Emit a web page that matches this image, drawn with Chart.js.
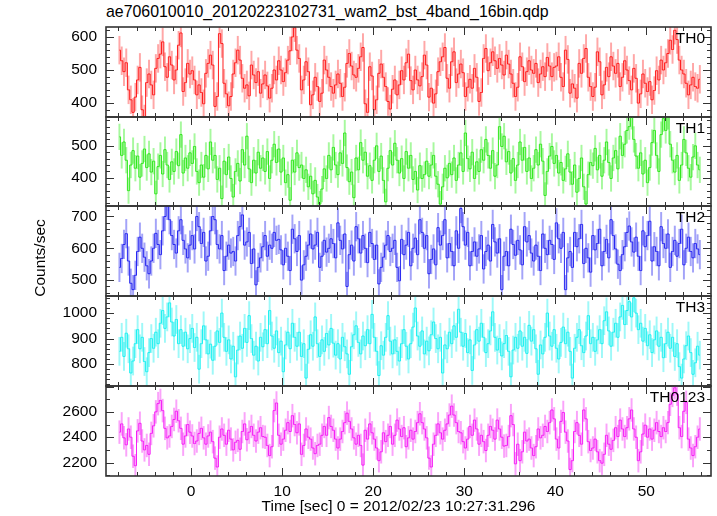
<!DOCTYPE html>
<html>
<head>
<meta charset="utf-8">
<title>ae706010010 WAM light curve</title>
<script src="https://cdn.jsdelivr.net/npm/chart.js@4.4.1/dist/chart.umd.min.js"></script>
<style>
  body { margin: 0; background: #fff; }
  #page { position: relative; width: 717px; height: 516px; overflow: hidden; font-family: "Liberation Sans", Arial, sans-serif; }
  #title { position: absolute; left: 106px; top: 3px; font-size: 15.9px; color: #000; }
  canvas.panel { position: absolute; left: 0; }
</style>
</head>
<body>
<div id="page">
  <div id="title">ae706010010_20120223102731_wam2_bst_4band_16bin.qdp</div>
  <canvas id="p0" class="panel"></canvas>
  <canvas id="p1" class="panel"></canvas>
  <canvas id="p2" class="panel"></canvas>
  <canvas id="p3" class="panel"></canvas>
  <canvas id="p4" class="panel"></canvas>
</div>
<script>
// bin centres (0.25 s bins), seconds from 2012/02/23 10:27:31.296
const times = [
  -7.875, -7.625, -7.375, -7.125, -6.875, -6.625, -6.375, -6.125, -5.875, -5.625, -5.375, -5.125, -4.875, -4.625, -4.375, -4.125,
  -3.875, -3.625, -3.375, -3.125, -2.875, -2.625, -2.375, -2.125, -1.875, -1.625, -1.375, -1.125, -0.875, -0.625, -0.375, -0.125,
  0.125, 0.375, 0.625, 0.875, 1.125, 1.375, 1.625, 1.875, 2.125, 2.375, 2.625, 2.875, 3.125, 3.375, 3.625, 3.875,
  4.125, 4.375, 4.625, 4.875, 5.125, 5.375, 5.625, 5.875, 6.125, 6.375, 6.625, 6.875, 7.125, 7.375, 7.625, 7.875,
  8.125, 8.375, 8.625, 8.875, 9.125, 9.375, 9.625, 9.875, 10.125, 10.375, 10.625, 10.875, 11.125, 11.375, 11.625, 11.875,
  12.125, 12.375, 12.625, 12.875, 13.125, 13.375, 13.625, 13.875, 14.125, 14.375, 14.625, 14.875, 15.125, 15.375, 15.625, 15.875,
  16.125, 16.375, 16.625, 16.875, 17.125, 17.375, 17.625, 17.875, 18.125, 18.375, 18.625, 18.875, 19.125, 19.375, 19.625, 19.875,
  20.125, 20.375, 20.625, 20.875, 21.125, 21.375, 21.625, 21.875, 22.125, 22.375, 22.625, 22.875, 23.125, 23.375, 23.625, 23.875,
  24.125, 24.375, 24.625, 24.875, 25.125, 25.375, 25.625, 25.875, 26.125, 26.375, 26.625, 26.875, 27.125, 27.375, 27.625, 27.875,
  28.125, 28.375, 28.625, 28.875, 29.125, 29.375, 29.625, 29.875, 30.125, 30.375, 30.625, 30.875, 31.125, 31.375, 31.625, 31.875,
  32.125, 32.375, 32.625, 32.875, 33.125, 33.375, 33.625, 33.875, 34.125, 34.375, 34.625, 34.875, 35.125, 35.375, 35.625, 35.875,
  36.125, 36.375, 36.625, 36.875, 37.125, 37.375, 37.625, 37.875, 38.125, 38.375, 38.625, 38.875, 39.125, 39.375, 39.625, 39.875,
  40.125, 40.375, 40.625, 40.875, 41.125, 41.375, 41.625, 41.875, 42.125, 42.375, 42.625, 42.875, 43.125, 43.375, 43.625, 43.875,
  44.125, 44.375, 44.625, 44.875, 45.125, 45.375, 45.625, 45.875, 46.125, 46.375, 46.625, 46.875, 47.125, 47.375, 47.625, 47.875,
  48.125, 48.375, 48.625, 48.875, 49.125, 49.375, 49.625, 49.875, 50.125, 50.375, 50.625, 50.875, 51.125, 51.375, 51.625, 51.875,
  52.125, 52.375, 52.625, 52.875, 53.125, 53.375, 53.625, 53.875, 54.125, 54.375, 54.625, 54.875, 55.125, 55.375, 55.625, 55.875
];

// counts/sec per band
const th0 = [
  560, 528, 495, 522, 440, 410, 372, 418, 470, 508, 380, 352, 462, 488, 455, 425,
  505, 535, 548, 585, 510, 478, 540, 515, 470, 500, 575, 612, 435, 462, 520, 488,
  498, 470, 425, 455, 432, 398, 490, 520, 545, 515, 390, 420, 610, 580, 460, 428,
  392, 420, 488, 522, 560, 530, 475, 445, 455, 422, 515, 485, 462, 495, 430, 458,
  485, 452, 415, 445, 500, 470, 528, 500, 465, 492, 530, 558, 600, 628, 560, 535,
  440, 470, 525, 495, 395, 425, 478, 450, 405, 430, 530, 500, 478, 450, 430, 455,
  488, 460, 420, 448, 520, 550, 512, 485, 478, 505, 540, 568, 398, 372, 510, 482,
  380, 410, 490, 518, 478, 450, 405, 382, 442, 470, 425, 455, 498, 470, 522, 548,
  468, 440, 500, 470, 452, 480, 545, 515, 418, 445, 400, 428, 495, 525, 540, 568,
  475, 445, 525, 555, 462, 488, 518, 492, 420, 448, 472, 445, 505, 478, 405, 432,
  535, 565, 498, 522, 555, 528, 505, 535, 515, 485, 545, 518, 488, 460, 420, 448,
  540, 510, 465, 495, 528, 500, 490, 520, 462, 488, 510, 480, 538, 512, 480, 508,
  512, 540, 478, 450, 560, 532, 430, 458, 445, 415, 520, 490, 535, 565, 478, 450,
  420, 448, 555, 525, 425, 455, 508, 480, 540, 512, 490, 520, 450, 478, 528, 500,
  468, 440, 505, 475, 400, 428, 488, 460, 435, 465, 410, 438, 498, 470, 530, 500,
  522, 550, 590, 562, 620, 592, 530, 500, 488, 460, 425, 455, 478, 450, 445, 472
];
const th1 = [
  528, 470, 512, 455, 360, 440, 485, 430, 468, 402, 445, 490, 432, 475, 418, 452,
  350, 435, 470, 412, 488, 440, 395, 450, 420, 482, 438, 535, 415, 462, 430, 478,
  445, 498, 420, 385, 440, 402, 470, 428, 512, 455, 470, 395, 430, 335, 452, 410,
  465, 398, 340, 420, 445, 390, 488, 440, 530, 428, 385, 455, 415, 480, 430, 462,
  420, 482, 398, 455, 505, 448, 490, 418, 462, 385, 410, 330, 455, 418, 478, 432,
  440, 398, 425, 372, 405, 350, 392, 340, 318, 365, 428, 398, 470, 425, 495, 440,
  410, 478, 445, 540, 432, 388, 418, 338, 462, 425, 510, 455, 480, 405, 438, 392,
  455, 500, 420, 468, 392, 325, 430, 485, 440, 508, 455, 415, 460, 398, 482, 430,
  470, 395, 420, 362, 438, 398, 410, 452, 405, 440, 470, 405, 380, 318, 372, 430,
  400, 445, 410, 462, 392, 440, 478, 420, 540, 460, 428, 480, 398, 450, 420, 488,
  455, 520, 470, 430, 485, 405, 440, 560, 498, 530, 450, 482, 415, 460, 392, 440,
  512, 455, 495, 420, 462, 398, 430, 488, 440, 505, 452, 345, 420, 468, 498, 445,
  470, 415, 448, 392, 428, 475, 418, 380, 440, 355, 398, 462, 372, 318, 410, 448,
  438, 492, 425, 470, 405, 455, 512, 448, 398, 462, 485, 428, 530, 470, 505, 548,
  560, 592, 520, 468, 430, 478, 412, 455, 385, 432, 510, 548, 470, 420, 535, 585,
  548, 592, 505, 455, 418, 470, 392, 440, 520, 478, 430, 402, 465, 500, 440, 425
];
const th2 = [
  540, 568, 612, 646, 560, 490, 470, 515, 590, 635, 600, 572, 545, 520, 560, 600,
  647, 612, 580, 655, 700, 735, 690, 640, 612, 585, 655, 690, 625, 598, 570, 610,
  640, 598, 700, 668, 615, 650, 560, 575, 655, 700, 690, 612, 598, 640, 530, 575,
  610, 585, 590, 560, 640, 668, 705, 610, 620, 650, 552, 598, 485, 540, 570, 605,
  640, 575, 610, 600, 650, 625, 628, 595, 548, 600, 575, 530, 660, 630, 590, 640,
  500, 548, 575, 610, 645, 598, 610, 650, 540, 575, 625, 588, 600, 630, 615, 570,
  680, 625, 598, 645, 480, 580, 610, 560, 668, 630, 585, 640, 600, 555, 650, 615,
  565, 610, 488, 540, 572, 610, 640, 590, 600, 625, 540, 498, 628, 580, 610, 650,
  545, 600, 632, 580, 690, 650, 600, 640, 520, 565, 598, 548, 665, 610, 640, 690,
  570, 615, 590, 545, 655, 600, 725, 668, 610, 650, 545, 590, 620, 575, 598, 640,
  535, 590, 610, 560, 675, 620, 585, 630, 470, 575, 590, 545, 660, 612, 578, 625,
  595, 548, 668, 620, 640, 585, 560, 610, 575, 530, 645, 600, 580, 625, 612, 565,
  680, 630, 600, 650, 470, 570, 590, 540, 650, 605, 630, 675, 552, 600, 570, 525,
  640, 595, 615, 660, 545, 590, 628, 570, 690, 640, 598, 550, 530, 580, 605, 650,
  670, 620, 588, 635, 575, 530, 655, 605, 640, 685, 560, 605, 590, 545, 668, 615,
  600, 645, 540, 590, 625, 575, 615, 660, 548, 600, 635, 590, 570, 615, 598, 580
];
const th3 = [
  850, 905, 830, 921, 860, 765, 812, 880, 935, 860, 905, 810, 770, 845, 900, 862,
  925, 880, 960, 1010, 940, 985, 1040, 965, 910, 975, 880, 935, 870, 925, 860, 900,
  940, 865, 905, 780, 880, 950, 895, 840, 878, 815, 870, 930, 885, 1000, 905, 850,
  895, 820, 870, 750, 855, 910, 862, 940, 885, 990, 900, 835, 870, 812, 905, 868,
  935, 880, 1010, 910, 862, 930, 845, 890, 770, 875, 925, 860, 960, 905, 870, 925,
  830, 880, 745, 858, 915, 870, 985, 880, 830, 895, 850, 920, 875, 940, 882, 835,
  880, 820, 905, 868, 840, 760, 868, 915, 950, 885, 840, 910, 872, 935, 880, 995,
  905, 850, 755, 872, 835, 905, 990, 890, 840, 895, 850, 812, 880, 935, 870, 820,
  880, 945, 1020, 910, 870, 930, 840, 890, 852, 915, 965, 900, 860, 905, 765, 875,
  860, 925, 880, 950, 905, 1015, 925, 870, 920, 845, 895, 775, 875, 935, 890, 960,
  905, 845, 880, 930, 1005, 905, 855, 900, 832, 880, 912, 850, 750, 855, 905, 862,
  930, 870, 905, 842, 952, 890, 935, 860, 760, 875, 840, 905, 1000, 910, 870, 935,
  862, 820, 885, 945, 880, 925, 850, 745, 862, 905, 935, 872, 845, 910, 990, 880,
  905, 850, 895, 935, 880, 970, 1005, 930, 870, 925, 960, 905, 985, 1030, 955, 1010,
  1045, 985, 1060, 1000, 935, 960, 890, 940, 872, 915, 845, 895, 930, 870, 905, 825,
  880, 925, 862, 905, 830, 880, 790, 745, 820, 872, 910, 845, 760, 805, 870, 835
];
const th0123 = [
  2440, 2505, 2395, 2340, 2465, 2400, 2250, 2175, 2450, 2510, 2370, 2300, 2335, 2265, 2430, 2490,
  2600, 2665, 2690, 2610, 2470, 2395, 2410, 2485, 2540, 2605, 2530, 2470, 2345, 2410, 2500, 2440,
  2410, 2350, 2370, 2430, 2470, 2395, 2345, 2410, 2440, 2365, 2235, 2165, 2400, 2465, 2415, 2345,
  2455, 2385, 2300, 2360, 2375, 2305, 2445, 2505, 2380, 2440, 2485, 2415, 2370, 2440, 2475, 2405,
  2400, 2335, 2255, 2325, 2610, 2670, 2415, 2345, 2385, 2455, 2515, 2445, 2570, 2500, 2435, 2505,
  2265, 2335, 2465, 2400, 2385, 2315, 2270, 2335, 2345, 2415, 2485, 2415, 2555, 2485, 2455, 2385,
  2315, 2385, 2445, 2515, 2590, 2525, 2465, 2395, 2345, 2415, 2335, 2180, 2455, 2385, 2505, 2435,
  2385, 2315, 2215, 2285, 2435, 2365, 2415, 2485, 2345, 2415, 2535, 2465, 2405, 2475, 2325, 2395,
  2455, 2385, 2445, 2515, 2585, 2515, 2465, 2395, 2235, 2165, 2345, 2415, 2505, 2435, 2385, 2455,
  2505, 2575, 2645, 2575, 2515, 2445, 2435, 2365, 2315, 2385, 2485, 2415, 2535, 2465, 2345, 2415,
  2365, 2295, 2415, 2485, 2455, 2385, 2535, 2465, 2400, 2330, 2335, 2405, 2570, 2500, 2190, 2345,
  2215, 2285, 2440, 2370, 2385, 2315, 2255, 2325, 2465, 2395, 2415, 2485, 2445, 2515, 2615, 2545,
  2385, 2315, 2525, 2595, 2440, 2370, 2145, 2215, 2445, 2515, 2415, 2345, 2615, 2545, 2365, 2295,
  2315, 2385, 2285, 2215, 2195, 2265, 2415, 2345, 2305, 2375, 2475, 2405, 2535, 2465, 2405, 2475,
  2545, 2615, 2465, 2400, 2215, 2285, 2425, 2495, 2400, 2465, 2385, 2455, 2515, 2445, 2405, 2475,
  2445, 2515, 2660, 2730, 2790, 2740, 2475, 2405, 2605, 2675, 2385, 2315, 2255, 2325, 2400, 2465
];

// 1-sigma error half widths, one per band
const errHalf = [42, 40, 45, 55, 90];

const bandNames = ['TH0', 'TH1', 'TH2', 'TH3', 'TH0123'];
const bandSeries = [th0, th1, th2, th3, th0123];
const lineColors = ['rgba(255,20,20,0.95)', 'rgba(40,230,20,0.95)', 'rgba(30,30,240,0.95)', 'rgba(20,240,240,0.95)', 'rgba(245,20,245,0.95)'];
const barColors = ['rgba(255,60,60,0.45)', 'rgba(60,240,40,0.45)', 'rgba(50,50,240,0.45)', 'rgba(40,240,240,0.45)', 'rgba(245,50,245,0.45)'];

const yMins = [358, 312, 450, 714, 2094];
const yMaxs = [630, 590, 733, 1067, 2804];
const yTickLabels = [[400, 500, 600], [400, 500], [500, 600, 700], [800, 900, 1000], [2200, 2400, 2600]];
const yMinorSteps = [20, 20, 20, 20, 100];
const yMajorSteps = [100, 100, 100, 100, 200];

const xMin = -9.35;
const xMax = 57.1;
const xTickLabels = [0, 10, 20, 30, 40, 50];
const xMinorStep = 2;
const xMajorStep = 10;

const xTitle = 'Time [sec] 0 = 2012/02/23 10:27:31.296';
const yTitle = 'Counts/sec';

// panel frame tops in page pixels
const panelTops = [27, 117, 206, 296, 386];
const panelBottom = 476;
const pad = 4;
const fontFamily = '"Liberation Sans", Arial, sans-serif';

// qdp-style frame with inward ticks on all four sides, band label, axis titles
const qdpFrame = {
  id: 'qdpFrame',
  afterDraw(chart, args, opts) {
    const { ctx, chartArea: a } = chart;
    const x = chart.scales.x;
    const y = chart.scales.y;
    ctx.save();
    ctx.strokeStyle = '#333';
    ctx.lineWidth = 1;
    ctx.beginPath();
    const firstX = Math.ceil(x.min / xMinorStep) * xMinorStep;
    for (let t = firstX; t <= x.max; t += xMinorStep) {
      const px = Math.round(x.getPixelForValue(t)) + 0.5;
      const len = t % xMajorStep === 0 ? 8 : 4;
      ctx.moveTo(px, a.top);
      ctx.lineTo(px, a.top + len);
      ctx.moveTo(px, a.bottom);
      ctx.lineTo(px, a.bottom - len);
    }
    const firstY = Math.ceil(y.min / opts.minor) * opts.minor;
    for (let v = firstY; v <= y.max; v += opts.minor) {
      const py = Math.round(y.getPixelForValue(v)) + 0.5;
      const len = v % opts.major === 0 ? 8 : 4;
      ctx.moveTo(a.left, py);
      ctx.lineTo(a.left + len, py);
      ctx.moveTo(a.right, py);
      ctx.lineTo(a.right - len, py);
    }
    ctx.stroke();
    ctx.lineWidth = 1.6;
    ctx.strokeRect(a.left, a.top, a.right - a.left, a.bottom - a.top);

    ctx.fillStyle = '#000';
    ctx.font = '15.5px ' + fontFamily;
    ctx.textAlign = 'right';
    ctx.textBaseline = 'alphabetic';
    ctx.fillText(opts.name, a.right - 6, a.top + 16);

    if (opts.showX) {
      ctx.textAlign = 'center';
      ctx.fillText(xTitle, (a.left + a.right) / 2 - 10, a.bottom + 35);
    }
    if (opts.showY) {
      ctx.translate(41, (a.top + a.bottom) / 2 + 7);
      ctx.rotate(-Math.PI / 2);
      ctx.textAlign = 'center';
      ctx.textBaseline = 'middle';
      ctx.fillText(yTitle, 0, 0);
    }
    ctx.restore();
  }
};

function makePanel(i) {
  const canvas = document.getElementById('p' + i);
  const isBottom = i === bandNames.length - 1;
  const top = panelTops[i] - pad;
  const bottom = isBottom ? 516 : panelTops[i + 1] + pad;
  canvas.width = 717;
  canvas.height = bottom - top;
  canvas.style.top = top + 'px';
  canvas.style.width = '717px';
  canvas.style.height = (bottom - top) + 'px';

  const vals = bandSeries[i];
  const err = errHalf[i];

  return new Chart(canvas, {
    type: 'line',
    data: {
      datasets: [
        {
          type: 'line',
          data: times.map((t, k) => ({ x: t, y: vals[k] })),
          borderColor: lineColors[i],
          borderWidth: 1,
          stepped: 'middle',
          pointRadius: 0,
          order: 0,
        },
        {
          type: 'bar',
          data: times.map((t, k) => ({ x: t, y: [vals[k] - err, vals[k] + err] })),
          backgroundColor: barColors[i],
          barThickness: 1.3,
          grouped: false,
          order: 1,
        },
      ],
    },
    options: {
      responsive: false,
      maintainAspectRatio: false,
      animation: false,
      layout: { padding: { left: 0, right: 6, top: pad, bottom: isBottom ? 0 : pad } },
      plugins: {
        legend: { display: false },
        tooltip: { enabled: false },
        qdpFrame: {
          name: bandNames[i],
          minor: yMinorSteps[i],
          major: yMajorSteps[i],
          showX: isBottom,
          showY: i === 2,
        },
      },
      scales: {
        x: {
          type: 'linear',
          min: xMin,
          max: xMax,
          offset: false,
          display: isBottom,
          grid: { display: false, drawTicks: false },
          border: { display: false },
          afterBuildTicks: (s) => { s.ticks = xTickLabels.map((v) => ({ value: v })); },
          afterFit: (s) => {
            s.height = isBottom ? 40 : 0;
            s.paddingLeft = 0;
            s.paddingRight = 0;
          },
          ticks: { color: '#000', padding: 6, maxRotation: 0, font: { family: fontFamily, size: 15.5 } },
        },
        y: {
          type: 'linear',
          min: yMins[i],
          max: yMaxs[i],
          grid: { display: false, drawTicks: false },
          border: { display: false },
          afterBuildTicks: (s) => { s.ticks = yTickLabels[i].map((v) => ({ value: v })); },
          afterFit: (s) => {
            s.width = 106;
            s.paddingTop = 0;
            s.paddingBottom = 0;
          },
          ticks: {
            color: '#000',
            padding: 9,
            font: { family: fontFamily, size: 15.5 },
            callback: (v) => String(v),
          },
        },
      },
    },
    plugins: [qdpFrame],
  });
}

bandNames.forEach((name, i) => makePanel(i));
</script>
</body>
</html>
